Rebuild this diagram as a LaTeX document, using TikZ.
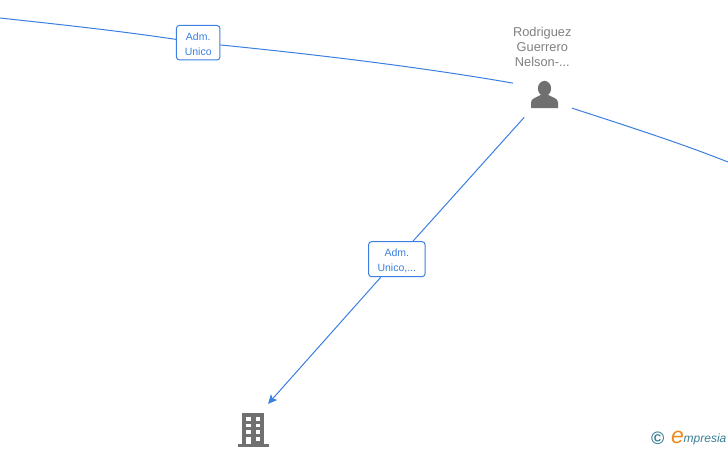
\documentclass[tikz,border=0pt]{standalone}
\usepackage{fontspec}
\setmainfont{Liberation Sans}
\usetikzlibrary{arrows.meta}
\definecolor{linkblue}{HTML}{3B80E0}
\definecolor{icongrey}{HTML}{707070}
\definecolor{namegrey}{HTML}{808080}
\definecolor{logoteal}{HTML}{3A7F94}
\definecolor{logoorange}{HTML}{EE8A1E}
\tikzset{
  link/.style={draw=linkblue,line width=1pt},
  hub/.style={circle,inner sep=0pt,minimum size=64pt},
  rolebox/.style={draw=linkblue,line width=1pt,rounded corners=3pt,fill=white,inner sep=0pt,
    text=linkblue,font=\fontsize{10.5}{15}\selectfont,align=center},
  personname/.style={text=namegrey,font=\fontsize{12.8}{15.3}\selectfont,align=center,inner sep=0pt},
  iconfill/.style={fill=icongrey,draw=none},
  windowfill/.style={fill=white,draw=none},
}
\begin{document}
\begin{tikzpicture}[x=1pt,y=-1pt]
\useasboundingbox[fill=white] (0,0) rectangle (728,450);
% graph nodes
\node[hub] (person) at (544,92) {};
\node[hub,minimum size=60pt] (building) at (253,430) {};
\coordinate (leftend) at (0,18);
\coordinate (rightend) at (728,162);
\node[personname] (name) at (542.3,47) {Rodriguez\\Guerrero\\Nelson-...};
% person icon
\fill[iconfill] (544.5,88.5) ellipse (6.6pt and 7.6pt);
\fill[iconfill] (531,108) -- (531,102.5) .. controls (531,98) and (537,97.5) .. (540.5,95)
  -- (548.5,95) .. controls (552,97.5) and (558,98) .. (558,102.5) -- (558,108) -- cycle;
% building icon
\fill[iconfill] (242,413) rectangle (264,445);
\fill[iconfill] (237.5,444) rectangle (269,447);
\foreach \yy in {417,423.5,430}{
  \fill[windowfill] (246,\yy) rectangle (250.7,\yy+3.8);
  \fill[windowfill] (255.7,\yy) rectangle (260,\yy+3.8);
}
\fill[windowfill] (246,436.5) rectangle (250.7,444);
\fill[windowfill] (255.7,436.5) rectangle (260,441);
% labels
\node[rolebox,minimum width=43.5pt,minimum height=34.5pt,text width=43.5pt] (role1) at (198.2,42.7) {\rule{0pt}{10.5pt}Adm.\\Unico};
\node[rolebox,minimum width=56.5pt,minimum height=35pt,text width=56.5pt] (role2) at (396.8,259.2) {\rule{0pt}{10.5pt}Adm.\\Unico,...};
% connectors
\draw[link] (leftend) .. controls (60,24.5) and (120,31) .. (role1);
\draw[link] (role1) .. controls (320,55) and (420,67) .. (person.164);
\draw[link] (person.-30) .. controls (630,127) and (680,143) .. (rightend);
\draw[link] (person.232) -- (role2);
\draw[link,-{Stealth[length=9pt,width=8.5pt,inset=2pt]}] (role2) -- (building.60);
% logo
\node[inner sep=0pt,text=logoteal,font=\fontsize{18}{18}\selectfont\bfseries] (copy) at (657.7,438.5) {©};
\node[inner sep=0pt,text=logoorange,font=\fontsize{23}{23}\selectfont\itshape] (logoe) at (677.5,437) {e};
\node[anchor=west,inner sep=0pt,text=logoteal,font=\fontsize{12}{12}\selectfont\itshape] (logotext) at (683.5,439) {mpresia};
\end{tikzpicture}
\end{document}
